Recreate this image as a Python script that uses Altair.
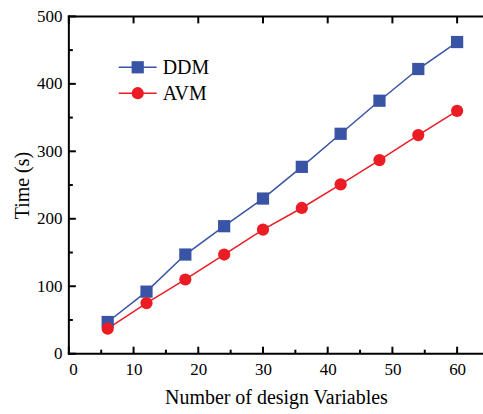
import altair as alt
import pandas as pd

x_vals = [6, 12, 18, 24, 30, 36, 42, 48, 54, 60]
ddm = [47, 92, 147, 189, 230, 277, 326, 375, 422, 462]
avm = [37, 75, 110, 147, 184, 216, 251, 287, 324, 360]
series_names = ["DDM", "AVM"]
colors = ["#3953A5", "#EC1C24"]

x_major = [0, 10, 20, 30, 40, 50, 60]
x_minor = [5, 15, 25, 35, 45, 55]
y_major = [0, 100, 200, 300, 400, 500]
y_minor = [50, 150, 250, 350, 450]

FONT = "Liberation Serif"
W, H = 415, 338

df = pd.DataFrame({
    "n": x_vals * 2,
    "t": ddm + avm,
    "series": ["DDM"] * len(x_vals) + ["AVM"] * len(x_vals),
})

xs = alt.Scale(domain=[0, 64], nice=False)
ys = alt.Scale(domain=[0, 500], nice=False)
cs = alt.Scale(domain=series_names, range=colors)
ss = alt.Scale(domain=series_names, range=["square", "circle"])

base = alt.Chart(df)
lines = base.mark_line(strokeWidth=1.5).encode(
    x=alt.X("n:Q", scale=xs, axis=alt.Axis(
        values=x_major, title="Number of design Variables", ticks=False, domain=False,
        labelFont=FONT, labelFontSize=17, labelColor="black", labelPadding=8,
        titleFont=FONT, titleFontSize=20, titleFontWeight="normal", titleColor="black",
        titlePadding=10, grid=False)),
    y=alt.Y("t:Q", scale=ys, axis=alt.Axis(
        values=y_major, title="Time (s)", ticks=False, domain=False,
        labelFont=FONT, labelFontSize=17, labelColor="black", labelPadding=7,
        titleFont=FONT, titleFontSize=20, titleFontWeight="normal", titleColor="black",
        titlePadding=4, grid=False)),
    color=alt.Color("series:N", scale=cs, legend=None),
    detail="series:N",
)
points = base.mark_point(filled=True, opacity=1, size=150).encode(
    x=alt.X("n:Q", scale=xs),
    y=alt.Y("t:Q", scale=ys),
    color=alt.Color("series:N", scale=cs, legend=None),
    shape=alt.Shape("series:N", scale=ss, legend=None),
)

xmaj = pd.DataFrame({"v": x_major})
xmin = pd.DataFrame({"v": x_minor})
ymaj = pd.DataFrame({"v": y_major})
ymin = pd.DataFrame({"v": y_minor})

frame = pd.DataFrame({"v": [0]})
TW = 2

tick_layers = [
    alt.Chart(xmaj).mark_rule(color="black", strokeWidth=TW).encode(
        x=alt.X("v:Q", scale=xs), y=alt.value(H), y2=alt.value(H - 7)),
    alt.Chart(xmin).mark_rule(color="black", strokeWidth=TW).encode(
        x=alt.X("v:Q", scale=xs), y=alt.value(H), y2=alt.value(H - 4)),
    alt.Chart(xmaj).mark_rule(color="black", strokeWidth=TW).encode(
        x=alt.X("v:Q", scale=xs), y=alt.value(0), y2=alt.value(7)),
    alt.Chart(ymaj).mark_rule(color="black", strokeWidth=TW).encode(
        y=alt.Y("v:Q", scale=ys), x=alt.value(0), x2=alt.value(7)),
    alt.Chart(ymin).mark_rule(color="black", strokeWidth=TW).encode(
        y=alt.Y("v:Q", scale=ys), x=alt.value(0), x2=alt.value(4)),
    # frame lines: bottom, left, top
    alt.Chart(frame).mark_rule(color="black", strokeWidth=2).encode(
        x=alt.value(-1), x2=alt.value(W), y=alt.value(H)),
    alt.Chart(frame).mark_rule(color="black", strokeWidth=2).encode(
        x=alt.value(0), y=alt.value(-1), y2=alt.value(H + 1)),
    alt.Chart(frame).mark_rule(color="black", strokeWidth=2).encode(
        x=alt.value(-1), x2=alt.value(W), y=alt.value(0)),
]

legend_layers = []
for i, (name, col, shp) in enumerate(zip(series_names, colors, ["square", "circle"])):
    yy = 51 + i * 26
    ld = pd.DataFrame({"series": [name]})
    legend_layers.append(alt.Chart(ld).mark_rule(color=col, strokeWidth=1.5).encode(
        x=alt.value(50), x2=alt.value(88), y=alt.value(yy)))
    legend_layers.append(alt.Chart(ld).mark_point(filled=True, opacity=1, size=150, color=col, shape=shp).encode(
        x=alt.value(69), y=alt.value(yy)))
    legend_layers.append(alt.Chart(ld).mark_text(align="left", baseline="middle", font=FONT,
                                                  fontSize=20, color="black").encode(
        x=alt.value(94), y=alt.value(yy + 1), text="series:N"))

chart = alt.layer(lines, points, *tick_layers, *legend_layers).properties(
    width=W, height=H,
    background="white",
    autosize=alt.AutoSizeParams(type="none"),
    padding={"left": 69, "top": 16, "right": 0, "bottom": 60},
).configure_view(stroke=None)

chart.save("out.html", embed_options={"renderer": "svg", "actions": False})
